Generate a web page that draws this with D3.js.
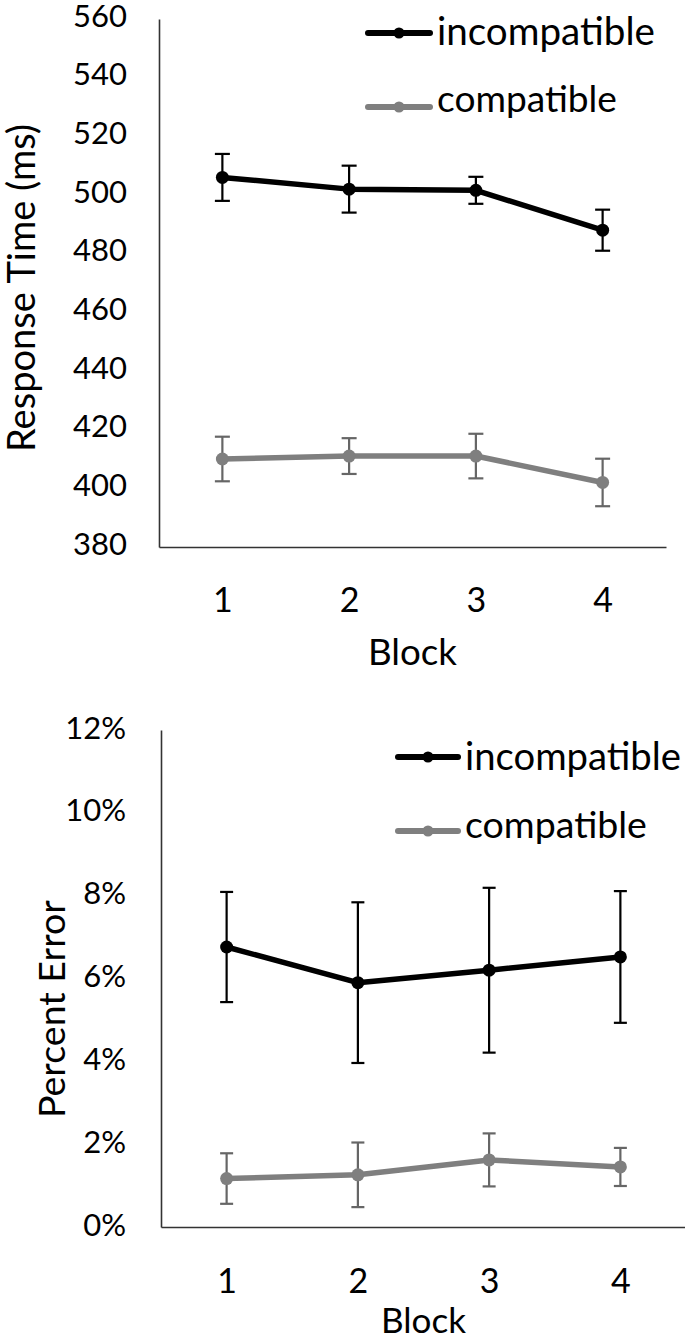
<!DOCTYPE html>
<html>
<head>
<meta charset="utf-8">
<script src="https://cdn.jsdelivr.net/npm/d3@7"></script>
<style>
  html, body { margin: 0; padding: 0; background: #fff; }
  svg { display: block; }
  text { font-family: Lato, "Open Sans", sans-serif; fill: #000; }
</style>
</head>
<body>
<svg id="chart" width="685" height="1338"></svg>
<script>
// ---------------- data ----------------
const blocks = ["1", "2", "3", "4"];
const seriesNames = ["incompatible", "compatible"];

const rtIncompatible = [506, 502, 501.6, 488];
const rtIncompatibleErr = [8, 8, 4.6, 7];
const rtCompatible = [410, 411, 411, 402];
const rtCompatibleErr = [7.6, 6.1, 7.6, 8.1];
const rtTicks = [380, 400, 420, 440, 460, 480, 500, 520, 540, 560];

const peIncompatible = [0.0676, 0.0590, 0.0620, 0.0652];
const peIncompatibleErr = [0.0133, 0.0194, 0.0199, 0.0159];
const peCompatible = [0.0117, 0.0126, 0.0162, 0.0145];
const peCompatibleErr = [0.0061, 0.0078, 0.0064, 0.0046];
const peTicks = [0, 0.02, 0.04, 0.06, 0.08, 0.10, 0.12];

// ---------------- helpers ----------------
const svg = d3.select("#chart");
const BLACK = "#000000", GRAY = "#7f7f7f", GRAYBAR = "#666666";

function fitText(sel, target) {
  const node = sel.node();
  const fs = parseFloat(sel.attr("font-size"));
  const w = node.getComputedTextLength();
  sel.attr("font-size", (fs * target / w).toFixed(2));
}

function drawPanel(cfg) {
  const g = svg.append("g");
  const x = d3.scalePoint().domain(blocks).range(cfg.xRange).padding(0.5);
  const y = d3.scaleLinear().domain(cfg.yDomain).range(cfg.yRange);

  // y axis
  const ya = g.append("g")
    .attr("transform", `translate(${cfg.xRange[0]},0)`)
    .call(d3.axisLeft(y).tickValues(cfg.ticks).tickSize(0).tickSizeOuter(0)
      .tickPadding(cfg.xRange[0] - cfg.tickRight).tickFormat(cfg.fmt));
  ya.select(".domain").attr("stroke", "#333").attr("stroke-width", 1.6);
  ya.selectAll("text").attr("font-family", "Lato, sans-serif")
    .attr("font-size", 31).attr("fill", "#000").attr("dy", 0).attr("y", cfg.tickDy);

  // x axis
  const xa = g.append("g")
    .attr("transform", `translate(0,${cfg.yRange[0]})`)
    .call(d3.axisBottom(x).tickSize(0).tickSizeOuter(0));
  xa.select(".domain").attr("stroke", "#333").attr("stroke-width", 1.6);
  xa.selectAll("text").attr("font-family", "Lato, sans-serif")
    .attr("font-size", 34).attr("fill", "#000").attr("dy", 0).attr("y", cfg.xLabelDy);

  // x title
  const xt = g.append("text").attr("x", (cfg.xRange[0] + cfg.xRange[1]) / 2)
    .attr("y", cfg.xTitleY).attr("text-anchor", "middle")
    .attr("font-size", 34).text("Block");
  fitText(xt, cfg.xTitleW);

  // y title
  const yt = g.append("text")
    .attr("transform", `translate(${cfg.yTitleX},${cfg.yTitleY}) rotate(-90)`)
    .attr("text-anchor", "middle").attr("font-size", 36).text(cfg.yTitle);
  fitText(yt, cfg.yTitleW);

  // series
  cfg.series.forEach(s => {
    const pts = blocks.map((b, i) => ({ b, v: s.values[i], e: s.errs[i] }));
    const eb = g.append("g").attr("stroke", s.barColor).attr("stroke-width", cfg.barW);
    eb.selectAll("line.v").data(pts).join("line")
      .attr("x1", d => x(d.b)).attr("x2", d => x(d.b))
      .attr("y1", d => y(d.v - d.e)).attr("y2", d => y(d.v + d.e));
    eb.selectAll("line.t").data(pts).join("line").attr("class", "t")
      .attr("x1", d => x(d.b) - cfg.cap / 2).attr("x2", d => x(d.b) + cfg.cap / 2)
      .attr("y1", d => y(d.v + d.e)).attr("y2", d => y(d.v + d.e));
    eb.selectAll("line.bt").data(pts).join("line").attr("class", "bt")
      .attr("x1", d => x(d.b) - cfg.cap / 2).attr("x2", d => x(d.b) + cfg.cap / 2)
      .attr("y1", d => y(d.v - d.e)).attr("y2", d => y(d.v - d.e));

    g.append("path").datum(pts)
      .attr("fill", "none").attr("stroke", s.color).attr("stroke-width", 5.5)
      .attr("stroke-linejoin", "round")
      .attr("d", d3.line().x(d => x(d.b)).y(d => y(d.v)));
    g.selectAll(null).data(pts).join("circle")
      .attr("cx", d => x(d.b)).attr("cy", d => y(d.v)).attr("r", 6.5)
      .attr("fill", s.color);
  });

  // legend
  cfg.legend.forEach((L, i) => {
    const s = cfg.series[i];
    g.append("line").attr("x1", L.x1).attr("x2", L.x2).attr("y1", L.ly).attr("y2", L.ly)
      .attr("stroke", s.color).attr("stroke-width", 6).attr("stroke-linecap", "round");
    g.append("circle").attr("cx", (L.x1 + L.x2) / 2).attr("cy", L.ly).attr("r", 5.5)
      .attr("fill", s.color);
    const t = g.append("text").attr("x", L.tx).attr("y", L.ty)
      .attr("font-size", 38).text(s.name);
    fitText(t, L.tw);
  });
}

drawPanel({
  xRange: [159, 666], yDomain: [380, 560], yRange: [547, 19],
  ticks: rtTicks, fmt: d3.format("d"), tickRight: 127, tickDy: 7,
  xLabelDy: 65, xTitleY: 665, xTitleW: 89,
  yTitle: "Response Time (ms)", yTitleX: 35, yTitleY: 288, yTitleW: 328,
  barW: 2.2, cap: 15,
  series: [
    { name: seriesNames[0], values: rtIncompatible, errs: rtIncompatibleErr, color: BLACK, barColor: BLACK },
    { name: seriesNames[1], values: rtCompatible, errs: rtCompatibleErr, color: GRAY, barColor: GRAYBAR }
  ],
  legend: [
    { x1: 368, x2: 430, ly: 33, tx: 437, ty: 45, tw: 218 },
    { x1: 368, x2: 430, ly: 107, tx: 437, ty: 112, tw: 180 }
  ]
});

drawPanel({
  xRange: [161, 686], yDomain: [0, 0.12], yRange: [1227, 730],
  ticks: peTicks, fmt: d3.format(".0%"), tickRight: 126, tickDy: 8,
  xLabelDy: 66, xTitleY: 1333, xTitleW: 85,
  yTitle: "Percent Error", yTitleX: 65, yTitleY: 1009, yTitleW: 218,
  barW: 2.2, cap: 13,
  series: [
    { name: seriesNames[0], values: peIncompatible, errs: peIncompatibleErr, color: BLACK, barColor: BLACK },
    { name: seriesNames[1], values: peCompatible, errs: peCompatibleErr, color: GRAY, barColor: GRAYBAR }
  ],
  legend: [
    { x1: 398, x2: 458, ly: 757, tx: 465, ty: 770, tw: 216 },
    { x1: 398, x2: 458, ly: 831, tx: 465, ty: 838, tw: 182 }
  ]
});
</script>
</body>
</html>
